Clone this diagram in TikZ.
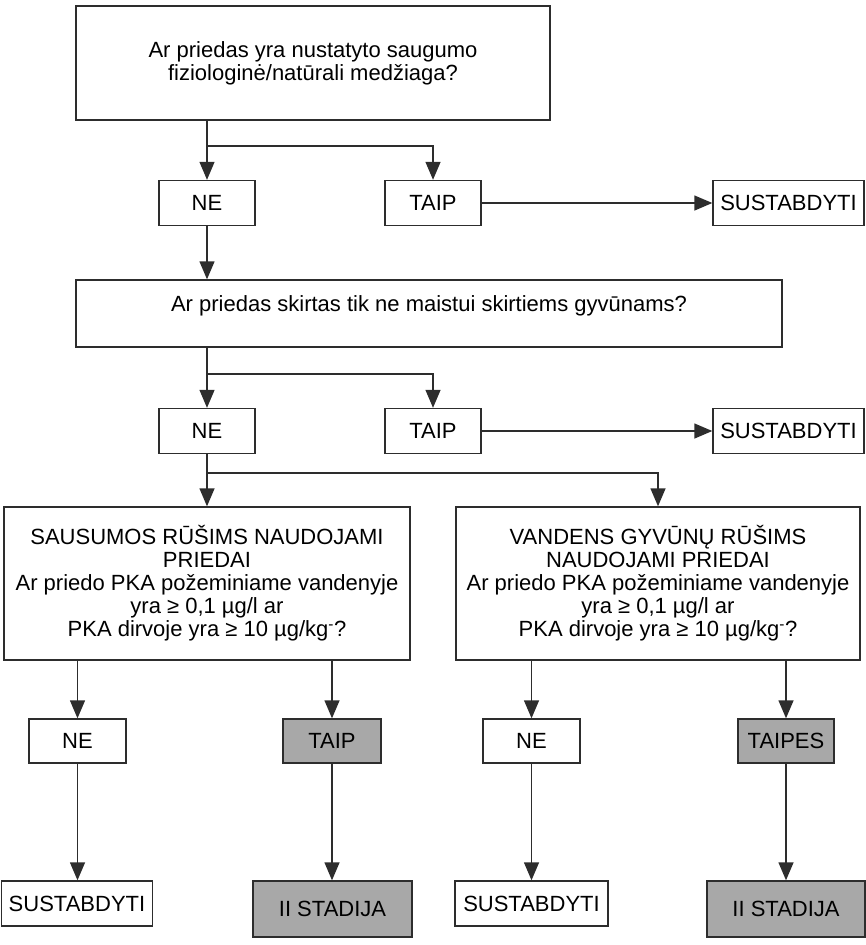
\documentclass[tikz,border=0pt]{standalone}
\usepackage{fontspec}
\setmainfont{Liberation Sans}
\usetikzlibrary{arrows.meta,positioning}
\definecolor{LineGray}{RGB}{45,45,45}
\definecolor{StageGray}{RGB}{168,168,168}

\begin{document}
\begin{tikzpicture}[x=1pt,y=-1pt,>={Triangle[width=15pt,length=18pt]},
    font=\fontsize{22}{23}\selectfont,
    box/.style={draw=LineGray,line width=1.4pt,fill=white,inner sep=0pt,align=center},
    stagebox/.style={box,fill=StageGray},
    link/.style={draw=LineGray,line width=1.4pt,->}]
  \useasboundingbox (0,0) rectangle (866,945);
  % first question
  \node[box,minimum width=474,minimum height=114] (q1) at (313,63)
    {Ar priedas yra nustatyto saugumo\\fiziologinė/natūrali medžiaga?};
  \node[box,minimum width=96,minimum height=45] (ne1) at (207,203) {NE};
  \node[box,minimum width=96,minimum height=45] (taip1) at (433,203) {TAIP};
  \node[box,minimum width=151,minimum height=45] (stop1) at (788.5,203) {SUSTABDYTI};
  % second question
  \node[box,align=none,minimum width=706,minimum height=67,text height=16pt,text depth=21pt]
    (q2) at (429,313.5) {Ar priedas skirtas tik ne maistui skirtiems gyvūnams?};
  \node[box,minimum width=96,minimum height=45] (ne2) at (207,431) {NE};
  \node[box,minimum width=96,minimum height=45] (taip2) at (433,431) {TAIP};
  \node[box,minimum width=151,minimum height=45] (stop2) at (788.5,431) {SUSTABDYTI};
  % land / aquatic
  \node[box,minimum width=406,minimum height=153] (land) at (207,583.5)
    {SAUSUMOS RŪŠIMS NAUDOJAMI\\PRIEDAI\\Ar priedo PKA požeminiame vandenyje\\yra ≥ 0,1 µg/l ar\\PKA dirvoje yra ≥ 10 µg/kg\textsuperscript{-}?};
  \node[box,minimum width=404,minimum height=153] (aqua) at (658,583.5)
    {VANDENS GYVŪNŲ RŪŠIMS\\NAUDOJAMI PRIEDAI\\Ar priedo PKA požeminiame vandenyje\\yra ≥ 0,1 µg/l ar\\PKA dirvoje yra ≥ 10 µg/kg\textsuperscript{-}?};
  \node[box,minimum width=97,minimum height=44] (ne3a) at (77.5,741) {NE};
  \node[stagebox,minimum width=98,minimum height=44] (taip3) at (332,741) {TAIP};
  \node[box,minimum width=97,minimum height=44] (ne3b) at (531.5,741) {NE};
  \node[stagebox,minimum width=96,minimum height=44] (taipes) at (786,741) {TAIPES};
  \node[box,minimum width=151,minimum height=45] (stopA) at (77,903.5) {SUSTABDYTI};
  \node[stagebox,minimum width=159,minimum height=56] (stageA) at (332.5,909) {II STADIJA};
  \node[box,minimum width=153,minimum height=45] (stopB) at (531.5,903.5) {SUSTABDYTI};
  \node[stagebox,minimum width=158,minimum height=56] (stageB) at (786,909) {II STADIJA};
  % connectors
  \coordinate (s1) at (207,146);
  \coordinate (s2) at (207,374);
  \coordinate (s3) at (207,473);
  \draw[link] (q1.south -| ne1) -- (ne1.north);
  \draw[link] (s1) -| (taip1.north);
  \draw[link] (taip1) -- (stop1);
  \draw[link] (ne1.south) -- (q2.north -| ne1);
  \draw[link] (q2.south -| ne2) -- (ne2.north);
  \draw[link] (s2) -| (taip2.north);
  \draw[link] (taip2) -- (stop2);
  \draw[link] (ne2.south) -- (land.north -| ne2);
  \draw[link] (s3) -| (aqua.north);
  \draw[link] (land.south -| ne3a) -- (ne3a.north);
  \draw[link] (land.south -| taip3) -- (taip3.north);
  \draw[link] (aqua.south -| ne3b) -- (ne3b.north);
  \draw[link] (aqua.south -| taipes) -- (taipes.north);
  \draw[link] (ne3a.south) -- (stopA.north -| ne3a);
  \draw[link] (taip3.south) -- (stageA.north -| taip3);
  \draw[link] (ne3b.south) -- (stopB.north -| ne3b);
  \draw[link] (taipes.south) -- (stageB.north -| taipes);
\end{tikzpicture}
\end{document}
